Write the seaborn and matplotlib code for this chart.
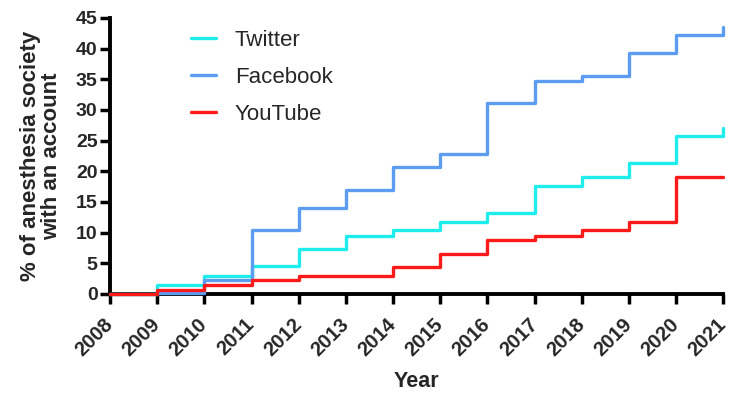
import matplotlib
matplotlib.use("Agg")
import matplotlib.pyplot as plt
import seaborn as sns
import pandas as pd
from matplotlib.lines import Line2D

years = list(range(2008, 2022))
twitter = [0, 1.5, 2.9, 4.5, 7.4, 9.4, 10.4, 11.7, 13.2, 17.6, 19.1, 21.3, 25.7, 27.1]
facebook = [0, 0.1, 2.2, 10.4, 14.1, 17.0, 20.7, 22.9, 31.1, 34.8, 35.6, 39.3, 42.3, 43.5]
youtube = [0, 0.65, 1.5, 2.3, 2.9, 2.9, 4.35, 6.5, 8.8, 9.4, 10.4, 11.7, 19.1, 19.1]
series_names = ["Twitter", "Facebook", "YouTube"]
colors = {"Twitter": "#1EEDED", "Facebook": "#5C9DF2", "YouTube": "#FF1A1A"}

df = pd.concat([
    pd.DataFrame({"Year": years, "value": vals, "series": name})
    for name, vals in zip(series_names, [twitter, facebook, youtube])
])

sns.set_style("ticks")
plt.rcParams["font.family"] = ["Liberation Sans", "DejaVu Sans"]

fig = plt.figure(figsize=(7.29, 3.96), dpi=100)
ax = fig.add_axes([0.151, 0.2576, 0.841, 0.697])

sns.lineplot(data=df, x="Year", y="value", hue="series", hue_order=series_names,
             palette=colors, drawstyle="steps-post", linewidth=2.4, ax=ax,
             legend=False, clip_on=False, zorder=3)

ax.set_xlim(2008, 2021)
ax.set_ylim(0, 45)
ax.set_xticks(years)
ax.set_xticklabels([str(y) for y in years], rotation=45, ha="right", va="center",
                   rotation_mode="anchor", fontsize=14.5, fontweight="bold")
ax.set_yticks(range(0, 46, 5))
ax.set_yticklabels([str(v) for v in range(0, 46, 5)], fontsize=14, fontweight="bold")
ax.tick_params(axis="both", width=2.5, length=7, direction="out", color="black")
ax.tick_params(axis="x", pad=13)
ax.tick_params(axis="y", pad=2)
for s in ["left", "bottom"]:
    ax.spines[s].set_linewidth(2.8)
    ax.spines[s].set_color("black")
sns.despine(ax=ax)

ax.set_xlabel("Year", fontsize=15.5, fontweight="bold", labelpad=8)
ax.set_ylabel("% of anesthesia society\nwith an account", fontsize=16,
              fontweight="bold", labelpad=10, linespacing=1.0)

handles = [Line2D([0], [0], color=colors[n], lw=2.4) for n in series_names]
ax.legend(handles, series_names, loc="upper left", bbox_to_anchor=(0.1, 1.03),
          frameon=False, fontsize=16, handlelength=1.1, handletextpad=0.85,
          labelspacing=0.72)

fig.savefig("out.png", dpi=100)
